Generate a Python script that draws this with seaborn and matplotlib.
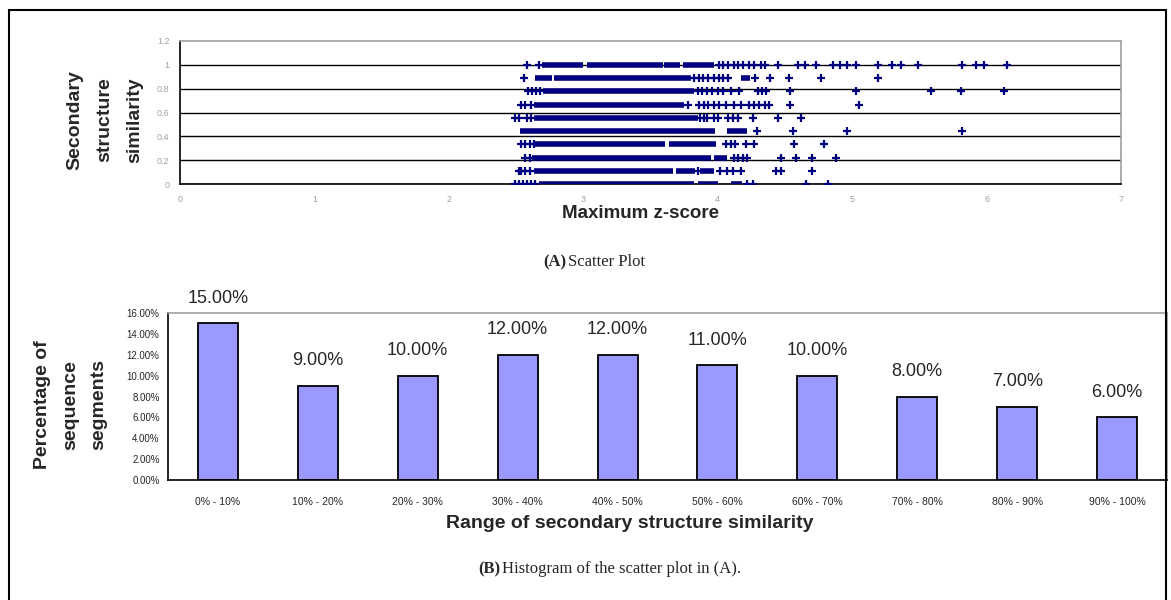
import numpy as np
import pandas as pd
import matplotlib
matplotlib.use("Agg")
import matplotlib.pyplot as plt
from matplotlib.patches import Rectangle
import seaborn as sns

# ---- scatter data (A): similarity levels are k/9 ----
levels = [9, 8, 7, 6, 5, 4, 3, 2, 1, 0]

# dense stretches where the '+' markers merge into a solid band: (level, x_start, x_end)
dense_runs = [
    (9, 2.69, 3.00), (9, 3.03, 3.59), (9, 3.60, 3.72), (9, 3.74, 3.97),
    (8, 2.64, 2.77), (8, 2.78, 3.80), (8, 4.17, 4.24),
    (7, 2.70, 3.82),
    (6, 2.63, 3.75),
    (5, 2.63, 3.85),
    (4, 2.53, 3.98), (4, 4.07, 4.22),
    (3, 2.64, 3.61), (3, 3.64, 3.99),
    (2, 2.62, 3.95), (2, 3.97, 4.07),
    (1, 2.63, 3.67), (1, 3.69, 3.83), (1, 3.87, 3.97),
    (0, 2.67, 3.82), (0, 3.85, 4.00), (0, 4.10, 4.18),
]

pts_9 = [2.58, 2.67, 4.01, 4.04, 4.08, 4.12, 4.15, 4.19, 4.23, 4.27, 4.32, 4.35,
         4.45, 4.60, 4.65, 4.73, 4.86, 4.91, 4.96, 5.03, 5.19, 5.30, 5.36, 5.49,
         5.82, 5.92, 5.98, 6.15]
pts_8 = [2.56, 3.82, 3.86, 3.89, 3.93, 3.97, 4.01, 4.04, 4.08, 4.28, 4.39, 4.53,
         4.77, 5.19]
pts_7 = [2.59, 2.62, 2.65, 2.68, 3.85, 3.88, 3.92, 3.96, 4.00, 4.04, 4.10, 4.16,
         4.30, 4.33, 4.36, 4.54, 5.03, 5.59, 5.81, 6.13]
pts_6 = [2.54, 2.57, 2.61, 3.78, 3.86, 3.90, 3.93, 3.97, 4.01, 4.06, 4.12, 4.17,
         4.23, 4.27, 4.31, 4.35, 4.38, 4.54, 5.05]
pts_5 = [2.49, 2.52, 2.58, 2.61, 3.87, 3.90, 3.92, 3.97, 4.00, 4.08, 4.11, 4.15,
         4.26, 4.45, 4.62]
pts_4 = [4.29, 4.56, 4.96, 5.82]
pts_3 = [2.54, 2.57, 2.60, 2.63, 4.06, 4.10, 4.13, 4.21, 4.27, 4.57, 4.79]
pts_2 = [2.57, 2.60, 4.12, 4.15, 4.19, 4.22, 4.47, 4.58, 4.70, 4.88]
pts_1 = [2.52, 2.54, 2.57, 2.60, 3.85, 4.02, 4.07, 4.11, 4.17, 4.43, 4.47, 4.70]
pts_0 = [2.49, 2.52, 2.55, 2.58, 2.61, 2.64, 4.22, 4.26, 4.66, 4.82]
sparse = {9: pts_9, 8: pts_8, 7: pts_7, 6: pts_6, 5: pts_5,
          4: pts_4, 3: pts_3, 2: pts_2, 1: pts_1, 0: pts_0}

# ---- histogram data (B) ----
ranges = ["0% - 10%", "10% - 20%", "20% - 30%", "30% - 40%", "40% - 50%",
          "50% - 60%", "60% - 70%", "70% - 80%", "80% - 90%", "90% - 100%"]
percent = [15, 9, 10, 12, 12, 11, 10, 8, 7, 6]

navy = "#000080"
sns.set_style("white")
plt.rcParams["font.family"] = ["Liberation Sans", "DejaVu Sans"]

fig = plt.figure(figsize=(11.71, 6.0), dpi=100)
W, H = 1171, 600

# outer frame
fig.patches.append(Rectangle((9 / W, -0.05), (1166 - 9) / W, 1.05 - 10 / H,
                             transform=fig.transFigure, fill=False,
                             edgecolor="black", lw=1.5))

# ===== (A) scatter =====
ax1 = fig.add_axes([180 / W, 1 - 184 / H, (1121 - 180) / W, (184 - 41) / H])
rows = []
for k in levels:
    for x in sparse[k]:
        rows.append({"z": x, "sim": k / 9})
df = pd.DataFrame(rows)

for y in [0, 0.2, 0.4, 0.6, 0.8, 1.0]:
    ax1.axhline(y, color="black", lw=1.0, zorder=1)

for k, x0, x1 in dense_runs:
    ax1.hlines(k / 9, x0, x1, color=navy, lw=4.0, zorder=3, capstyle="butt")

sns.scatterplot(data=df, x="z", y="sim", marker="+", s=36, color=navy,
                linewidth=1.6, ax=ax1, zorder=4, legend=False)

ax1.set_xlim(0, 7)
ax1.set_ylim(0, 1.2)
ax1.set_xticks(range(8))
ax1.set_yticks([0, 0.2, 0.4, 0.6, 0.8, 1.0, 1.2])
ax1.set_yticklabels(["0", "0.2", "0.4", "0.6", "0.8", "1", "1.2"])
ax1.tick_params(axis="both", labelsize=6.5, labelcolor="#a0a0a0", color="black",
                length=4, width=1, direction="out")
ax1.tick_params(axis="x", pad=4)
ax1.set_xlabel("")
ax1.set_ylabel("")
for s in ["left", "bottom"]:
    ax1.spines[s].set_color("black")
    ax1.spines[s].set_linewidth(1.2)
for s in ["top", "right"]:
    ax1.spines[s].set_color("#a0a0a0")
    ax1.spines[s].set_linewidth(1.2)

fig.text(640 / W, 1 - 213 / H, "Maximum z-score", ha="center", va="center",
         fontsize=13.5, fontweight="bold")
fig.text(105 / W, 1 - 120 / H, "Secondary\nstructure\nsimilarity", ha="center",
         va="center", rotation=90, fontsize=14, fontweight="bold", linespacing=2.0)

fig.text(566 / W, 1 - 262 / H, "(A)", ha="right", va="center", fontsize=12,
         fontweight="bold", family="Liberation Serif")
fig.text(568 / W, 1 - 262 / H, "Scatter Plot", ha="left", va="center", fontsize=12,
         family="Liberation Serif")

# ===== (B) histogram =====
ax2 = fig.add_axes([168 / W, 1 - 480 / H, (1167 - 168) / W, (480 - 313) / H])
hist = pd.DataFrame({"range": ranges, "pct": percent})
sns.barplot(data=hist, x="range", y="pct", color="#9999ff", saturation=1,
            edgecolor="black", linewidth=1.3, width=0.4, ax=ax2)
ax2.bar_label(ax2.containers[0], labels=[f"{v:.2f}%" for v in percent],
              padding=12, fontsize=13)
ax2.set_xlim(-0.5, 9.5)
ax2.set_ylim(0, 16)
ax2.set_yticks(range(0, 17, 2))
ax2.set_yticklabels([f"{v:.2f}%" for v in range(0, 17, 2)])
ax2.set_xticks(np.arange(-0.5, 10, 1), minor=True)
ax2.tick_params(axis="x", which="major", length=0, labelsize=7.5, pad=12)
ax2.tick_params(axis="x", which="minor", length=4, width=1, color="black",
                direction="out")
ax2.tick_params(axis="y", labelsize=7, length=4, width=1, color="black",
                direction="out", pad=2)
ax2.set_xlabel("")
ax2.set_ylabel("")
for s in ["left", "bottom"]:
    ax2.spines[s].set_color("black")
    ax2.spines[s].set_linewidth(1.2)
for s in ["top", "right"]:
    ax2.spines[s].set_color("#a0a0a0")
    ax2.spines[s].set_linewidth(1.2)

fig.text(630 / W, 1 - 523 / H, "Range of secondary structure similarity",
         ha="center", va="center", fontsize=14, fontweight="bold")
fig.text(71 / W, 1 - 405 / H, "Percentage of\nsequence\nsegments", ha="center",
         va="center", rotation=90, fontsize=14, fontweight="bold", linespacing=1.85)

fig.text(500 / W, 1 - 569 / H, "(B)", ha="right", va="center", fontsize=12,
         fontweight="bold", family="Liberation Serif")
fig.text(502 / W, 1 - 569 / H, "Histogram of the scatter plot in (A).", ha="left",
         va="center", fontsize=12, family="Liberation Serif")

fig.savefig("out.png", dpi=100)
